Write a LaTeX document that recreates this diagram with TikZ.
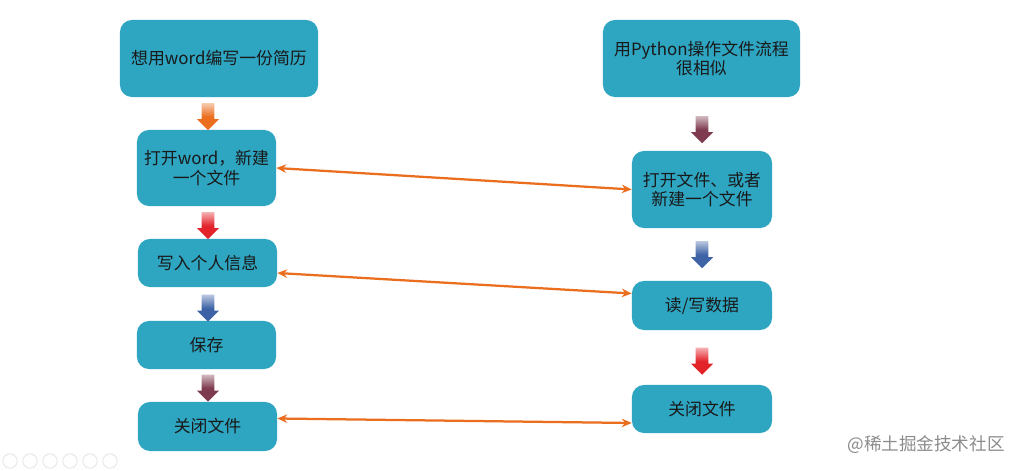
\documentclass[tikz,border=0pt]{standalone}
\usepackage{fontspec}
\setmainfont{Noto Sans CJK SC}
\usepackage{tikz}
\usetikzlibrary{shapes.arrows,arrows.meta}
\definecolor{boxblue}{HTML}{2EA5C1}
\definecolor{arrorange}{HTML}{EB6E1F}
\definecolor{arrred}{HTML}{E3232A}
\definecolor{arrblue}{HTML}{3D62A6}
\definecolor{arrplum}{HTML}{7E3A4E}
\tikzstyle{Box}=[fill=boxblue,rounded corners=0.3cm,align=center,text=black!90,font=\fontsize{12}{14}\selectfont,inner sep=2pt]
\tikzstyle{Down}=[single arrow,shape border rotate=270,inner sep=0.15cm,minimum height=0.68cm,single arrow head extend=0.12cm,single arrow tip angle=90]
\tikzstyle{Link}=[{Stealth[length=7pt,width=6pt]}-{Stealth[length=7pt,width=6pt]},arrorange,line width=1.6pt]
\tikzstyle{Orange}=[top color=arrorange!35,bottom color=arrorange,middle color=arrorange]
\tikzstyle{Red}=[top color=arrred!35,bottom color=arrred,middle color=arrred]
\tikzstyle{Blue}=[top color=arrblue!35,bottom color=arrblue,middle color=arrblue]
\tikzstyle{Plum}=[top color=arrplum!35,bottom color=arrplum,middle color=arrplum]
\tikzstyle{Icon}=[draw=black!10,line width=0.6pt]

\begin{document}
\begin{tikzpicture}[x=0.025cm,y=-0.025cm]

    \useasboundingbox[fill=white] (0,0) rectangle (1024,471);

    % word side
    \node[Box,minimum width=4.95cm,minimum height=1.925cm] (word) at (219,58.5) {想用word编写一份简历};
    \node[Box,minimum width=3.475cm,minimum height=1.9cm] (wopen) at (206.5,168) {打开word，新建\\一个文件};
    \node[Box,minimum width=3.475cm,minimum height=1.2cm] (wwrite) at (207.5,263) {写入个人信息};
    \node[Box,minimum width=3.475cm,minimum height=1.2cm] (wsave) at (206.5,345) {保存};
    \node[Box,minimum width=3.475cm,minimum height=1.225cm] (wclose) at (207.5,426.5) {关闭文件};

    % python side
    \node[Box,minimum width=4.925cm,minimum height=1.925cm] (py) at (701.5,58.5) {用Python操作文件流程\\很相似};
    \node[Box,minimum width=3.5cm,minimum height=1.925cm] (popen) at (702,189.5) {打开文件、或者\\新建一个文件};
    \node[Box,minimum width=3.5cm,minimum height=1.225cm] (prw) at (702,305.5) {读/写数据};
    \node[Box,minimum width=3.5cm,minimum height=1.2cm] (pclose) at (702,409) {关闭文件};

    % block arrows
    \node[Down,Orange] (d1) at (208,113.5) {};
    \node[Down,Red] (d2) at (208,222.5) {};
    \node[Down,Blue] (d3) at (208,305) {};
    \node[Down,Plum] (d4) at (208,385) {};
    \node[Down,Plum] (d5) at (702,126.5) {};
    \node[Down,Blue] (d6) at (702,251.5) {};
    \node[Down,Red] (d7) at (702,358) {};

    % links
    \draw[Link] (wopen.east) to (popen.west);
    \draw[Link] ([yshift=-0.25cm]wwrite.east) to ([yshift=0.3cm]prw.west);
    \draw[Link] ([yshift=0.2cm]wclose.east) to ([yshift=-0.35cm]pclose.west);

    % watermark and slide controls
    \node[text=black!45,font=\fontsize{12.5}{14}\selectfont] (mark) at (926,445) {@稀土掘金技术社区};
    \foreach \x in {10,30,50,70,90,110}
        \draw[Icon] (\x,461) circle (0.18cm);

\end{tikzpicture}
\end{document}
